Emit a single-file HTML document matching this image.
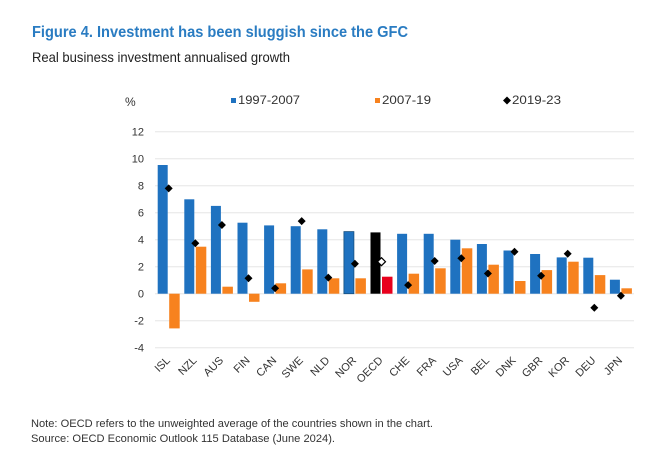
<!DOCTYPE html>
<html><head><meta charset="utf-8"><style>
html,body{margin:0;padding:0;background:#fff;}
svg{display:block;font-family:"Liberation Sans",sans-serif;}
</style></head><body>
<svg width="650" height="459" viewBox="0 0 650 459" xmlns="http://www.w3.org/2000/svg">
<defs><polygon id="dm" points="0,-4 4,0 0,4 -4,0"/></defs>
<rect width="650" height="459" fill="#fff"/>
<text x="32" y="37" font-size="16" font-weight="bold" fill="#2a7cc2" textLength="376" lengthAdjust="spacingAndGlyphs">Figure 4. Investment has been sluggish since the GFC</text>
<text x="32" y="62" font-size="14" fill="#222" textLength="258" lengthAdjust="spacingAndGlyphs">Real business investment annualised growth</text>
<text x="125" y="106" font-size="12" fill="#333">%</text>
<rect x="231" y="98" width="5" height="5" fill="#1f72c0"/>
<text x="238" y="104" font-size="12" fill="#333" textLength="62" lengthAdjust="spacingAndGlyphs">1997-2007</text>
<rect x="375" y="98" width="5" height="5" fill="#f7821e"/>
<text x="382" y="104" font-size="12" fill="#333" textLength="49" lengthAdjust="spacingAndGlyphs">2007-19</text>
<use href="#dm" x="507" y="100.5" fill="#000"/>
<text x="512" y="104" font-size="12" fill="#333" textLength="49" lengthAdjust="spacingAndGlyphs">2019-23</text>
<g stroke="#e6e6e6" stroke-width="1">
<line x1="155" x2="634" y1="131.7" y2="131.7"/><line x1="155" x2="634" y1="158.7" y2="158.7"/>
<line x1="155" x2="634" y1="185.7" y2="185.7"/><line x1="155" x2="634" y1="212.7" y2="212.7"/>
<line x1="155" x2="634" y1="239.7" y2="239.7"/><line x1="155" x2="634" y1="266.7" y2="266.7"/>
<line x1="155" x2="634" y1="293.7" y2="293.7"/><line x1="155" x2="634" y1="320.7" y2="320.7"/>
<line x1="155" x2="634" y1="347.7" y2="347.7"/>
</g>
<g font-size="11" fill="#333" text-anchor="end">
<text x="144" y="135.5">12</text><text x="144" y="162.5">10</text><text x="144" y="189.5">8</text>
<text x="144" y="216.5">6</text><text x="144" y="243.5">4</text><text x="144" y="270.5">2</text>
<text x="144" y="297.5">0</text><text x="144" y="324.5">-2</text><text x="144" y="351.5">-4</text>
</g>
<g fill="#1f72c0">
<rect x="157.7" y="165.0" width="10" height="128.7"/>
<rect x="184.3" y="199.3" width="10" height="94.4"/>
<rect x="210.9" y="205.9" width="10" height="87.8"/>
<rect x="237.5" y="222.7" width="10" height="71.0"/>
<rect x="264.1" y="225.4" width="10" height="68.3"/>
<rect x="290.7" y="226.2" width="10" height="67.5"/>
<rect x="317.3" y="229.3" width="10" height="64.4"/>
<rect x="343.9" y="231.6" width="10" height="62.1" stroke="#17507f" stroke-width="0.8"/>
<rect x="397.1" y="233.8" width="10" height="59.9"/>
<rect x="423.7" y="233.8" width="10" height="59.9"/>
<rect x="450.3" y="239.7" width="10" height="54.0"/>
<rect x="476.9" y="244.0" width="10" height="49.7"/>
<rect x="503.5" y="250.5" width="10" height="43.2"/>
<rect x="530.1" y="254.0" width="10" height="39.7"/>
<rect x="556.7" y="257.4" width="10" height="36.3"/>
<rect x="583.3" y="257.7" width="10" height="36.0"/>
<rect x="609.9" y="279.7" width="10" height="14.0"/>
</g>
<rect x="370.5" y="232.4" width="10" height="61.3" fill="#000"/>
<g fill="#f7821e">
<rect x="169.2" y="293.7" width="10.5" height="34.7"/>
<rect x="195.8" y="246.7" width="10.5" height="47.0"/>
<rect x="222.4" y="286.7" width="10.5" height="7.0"/>
<rect x="249.0" y="293.7" width="10.5" height="8.1"/>
<rect x="275.6" y="283.3" width="10.5" height="10.4"/>
<rect x="302.2" y="269.4" width="10.5" height="24.3"/>
<rect x="328.8" y="278.3" width="10.5" height="15.4"/>
<rect x="355.4" y="278.3" width="10.5" height="15.4"/>
<rect x="408.6" y="273.7" width="10.5" height="20.0"/>
<rect x="435.2" y="268.3" width="10.5" height="25.4"/>
<rect x="461.8" y="248.3" width="10.5" height="45.4"/>
<rect x="488.4" y="264.7" width="10.5" height="29.0"/>
<rect x="515.0" y="281.0" width="10.5" height="12.7"/>
<rect x="541.6" y="270.1" width="10.5" height="23.6"/>
<rect x="568.2" y="261.7" width="10.5" height="32.0"/>
<rect x="594.8" y="275.1" width="10.5" height="18.6"/>
<rect x="621.4" y="288.3" width="10.5" height="5.4"/>
</g>
<rect x="382.0" y="276.7" width="10.5" height="17.0" fill="#e8001c"/>
<g fill="#000">
<use href="#dm" x="168.7" y="188.4"/>
<use href="#dm" x="195.3" y="243.3"/>
<use href="#dm" x="221.9" y="225.0"/>
<use href="#dm" x="248.5" y="278.3"/>
<use href="#dm" x="275.1" y="288.3"/>
<use href="#dm" x="301.7" y="221.1"/>
<use href="#dm" x="328.3" y="277.6"/>
<use href="#dm" x="354.9" y="263.7"/>
<use href="#dm" x="408.1" y="285.1"/>
<use href="#dm" x="434.7" y="261.0"/>
<use href="#dm" x="461.3" y="258.3"/>
<use href="#dm" x="487.9" y="273.5"/>
<use href="#dm" x="514.5" y="251.7"/>
<use href="#dm" x="541.1" y="275.7"/>
<use href="#dm" x="567.7" y="253.7"/>
<use href="#dm" x="594.3" y="307.7"/>
<use href="#dm" x="620.9" y="295.7"/>
</g>
<use href="#dm" x="381.5" y="261.7" fill="#fff" stroke="#000" stroke-width="1.2"/>
<g font-size="11" fill="#333" text-anchor="end">
<text x="170.7" y="361" transform="rotate(-45 170.7 361)">ISL</text>
<text x="197.3" y="361" transform="rotate(-45 197.3 361)">NZL</text>
<text x="223.9" y="361" transform="rotate(-45 223.9 361)">AUS</text>
<text x="250.5" y="361" transform="rotate(-45 250.5 361)">FIN</text>
<text x="277.1" y="361" transform="rotate(-45 277.1 361)">CAN</text>
<text x="303.7" y="361" transform="rotate(-45 303.7 361)">SWE</text>
<text x="330.3" y="361" transform="rotate(-45 330.3 361)">NLD</text>
<text x="356.9" y="361" transform="rotate(-45 356.9 361)">NOR</text>
<text x="383.5" y="361" transform="rotate(-45 383.5 361)">OECD</text>
<text x="410.1" y="361" transform="rotate(-45 410.1 361)">CHE</text>
<text x="436.7" y="361" transform="rotate(-45 436.7 361)">FRA</text>
<text x="463.3" y="361" transform="rotate(-45 463.3 361)">USA</text>
<text x="489.9" y="361" transform="rotate(-45 489.9 361)">BEL</text>
<text x="516.5" y="361" transform="rotate(-45 516.5 361)">DNK</text>
<text x="543.1" y="361" transform="rotate(-45 543.1 361)">GBR</text>
<text x="569.7" y="361" transform="rotate(-45 569.7 361)">KOR</text>
<text x="596.3" y="361" transform="rotate(-45 596.3 361)">DEU</text>
<text x="622.9" y="361" transform="rotate(-45 622.9 361)">JPN</text>
</g>
<text x="31" y="427" font-size="11" fill="#333" textLength="402" lengthAdjust="spacingAndGlyphs">Note: OECD refers to the unweighted average of the countries shown in the chart.</text>
<text x="31" y="442" font-size="11" fill="#333" textLength="304" lengthAdjust="spacingAndGlyphs">Source: OECD Economic Outlook 115 Database (June 2024).</text>
</svg>
</body></html>
